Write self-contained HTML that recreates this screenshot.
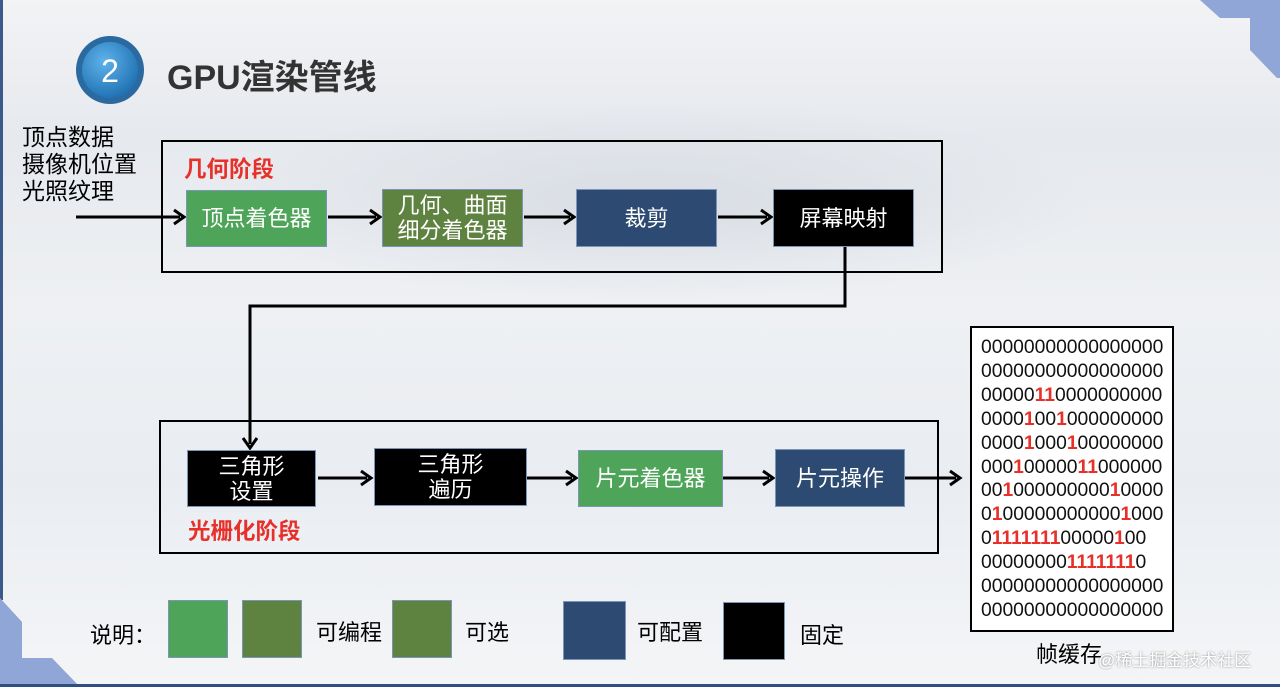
<!DOCTYPE html>
<html><head><meta charset="utf-8"><style>
body{margin:0;width:1280px;height:687px;overflow:hidden;position:relative;font-family:"Liberation Sans","Noto Sans CJK SC",sans-serif;
background:linear-gradient(180deg,#f2f3f5 0%,#e6e9ee 20%,#eef0f3 45%,#e9edf2 70%,#f4f5f7 100%);}
.a{position:absolute}
.box{position:absolute;color:#fff;display:flex;align-items:center;justify-content:center;text-align:center;font-size:22px;line-height:25px;box-sizing:border-box;border:1px solid #7a95b5}
.g{background:#4ea55a}.o{background:#5e8240}.n{background:#2d4b72}.k{background:#000}
.fr{position:absolute;border:2px solid #000;box-sizing:border-box}
.red{color:#e8302a;font-weight:bold;font-size:22.5px}
.t{position:absolute;font-size:22px;color:#000}
.fb{position:absolute;left:970px;top:326px;width:204px;height:306px;border:2px solid #000;box-sizing:border-box;background:#fff;padding:8px 0 0 9px;font-size:19.3px;line-height:23.9px;color:#111;white-space:nowrap}
.fb b{color:#e8302a}
</style></head><body>
<div class="a" style="left:200px;top:100px;width:900px;height:200px;background:radial-gradient(ellipse,#d8dde3 0%,rgba(230,233,238,0) 70%)"></div>
<div class="a" style="left:0;top:0;width:3px;height:600px;background:#3b5a8c"></div>
<svg class="a" style="left:0;top:0" width="1280" height="687">
<polygon points="1200,0 1220,18 1250,18 1250,50 1277,78 1280,78 1280,0" fill="#8fa6d6"/>
<polygon points="0,598 22,622 22,658 52,658 80,687 0,687" fill="#8fa6d6"/>
<rect x="0" y="684" width="1280" height="3" fill="#2f4f82"/>
<defs><radialGradient id="c" cx="40%" cy="35%" r="70%"><stop offset="0" stop-color="#5fb3ea"/><stop offset="1" stop-color="#1d6fb0"/></radialGradient></defs>
<circle cx="110" cy="70" r="34" fill="#2a6aa0"/><circle cx="110" cy="70" r="28" fill="url(#c)"/>
<text x="110" y="82" font-size="32" fill="#fff" text-anchor="middle" font-family="Liberation Sans">2</text>
<g stroke="#000" stroke-width="3" fill="none">
<line x1="76" y1="217" x2="180" y2="217"/><line x1="328" y1="217" x2="376" y2="217"/><line x1="524" y1="217" x2="570" y2="217"/><line x1="718" y1="217" x2="767" y2="217"/>
<polyline points="845,247 845,306 250,306 250,444"/>
<line x1="318" y1="478" x2="367" y2="478"/><line x1="527" y1="478" x2="572" y2="478"/><line x1="723" y1="478" x2="769" y2="478"/><line x1="905" y1="478" x2="956" y2="478"/>
</g>
<g fill="none" stroke="#000" stroke-width="3">
<polyline points="174,210 184,217 174,224"/><polyline points="370,210 380,217 370,224"/><polyline points="564,210 574,217 564,224"/><polyline points="761,210 771,217 761,224"/>
<polyline points="243,438 250,448 257,438"/>
<polyline points="361,471 371,478 361,485"/><polyline points="566,471 576,478 566,485"/><polyline points="763,471 773,478 763,485"/><polyline points="950,471 960,478 950,485"/>
</g>
</svg>
<div class="a" style="left:167px;top:50px;font-size:34px;font-weight:bold;color:#333">GPU渲染管线</div>
<div class="t" style="left:22px;top:124px;line-height:27px;font-size:23px">顶点数据<br>摄像机位置<br>光照纹理</div>
<div class="fr" style="left:161px;top:140px;width:782px;height:133px"></div>
<div class="a red" style="left:184px;top:152px">几何阶段</div>
<div class="box g" style="left:186px;top:190px;width:141px;height:57px">顶点着色器</div>
<div class="box o" style="left:382px;top:189px;width:141px;height:58px">几何、曲面<br>细分着色器</div>
<div class="box n" style="left:576px;top:189px;width:141px;height:58px">裁剪</div>
<div class="box k" style="left:773px;top:189px;width:141px;height:58px">屏幕映射</div>
<div class="fr" style="left:159px;top:420px;width:780px;height:134px"></div>
<div class="box k" style="left:187px;top:450px;width:129px;height:57px">三角形<br>设置</div>
<div class="box k" style="left:374px;top:448px;width:153px;height:58px">三角形<br>遍历</div>
<div class="box g" style="left:578px;top:450px;width:145px;height:57px">片元着色器</div>
<div class="box n" style="left:775px;top:449px;width:130px;height:58px">片元操作</div>
<div class="a red" style="left:188px;top:514px">光栅化阶段</div>
<div class="fb">00000000000000000<br>00000000000000000<br>00000<b>11</b>0000000000<br>0000<b>1</b>00<b>1</b>000000000<br>0000<b>1</b>000<b>1</b>00000000<br>000<b>1</b>00000<b>11</b>000000<br>00<b>1</b>000000000<b>1</b>0000<br>0<b>1</b>00000000000<b>1</b>000<br>0<b>1111111</b>00000<b>1</b>00<br>00000000<b>1111111</b>0<br>00000000000000000<br>00000000000000000</div>
<div class="t" style="left:1036px;top:637px">帧缓存</div>
<div class="a" style="left:1098px;top:646px;font-size:17px;color:#fff;text-shadow:0 0 2px #888">@稀土掘金技术社区</div>
<div class="t" style="left:90px;top:618px">说明：</div>
<div class="box g" style="left:168px;top:600px;width:60px;height:58px"></div>
<div class="box o" style="left:242px;top:600px;width:60px;height:58px"></div>
<div class="t" style="left:316px;top:615px">可编程</div>
<div class="box o" style="left:392px;top:600px;width:60px;height:58px"></div>
<div class="t" style="left:465px;top:615px">可选</div>
<div class="box n" style="left:563px;top:601px;width:63px;height:59px"></div>
<div class="t" style="left:637px;top:615px">可配置</div>
<div class="box k" style="left:723px;top:602px;width:62px;height:58px"></div>
<div class="t" style="left:800px;top:618px">固定</div>
</body></html>
